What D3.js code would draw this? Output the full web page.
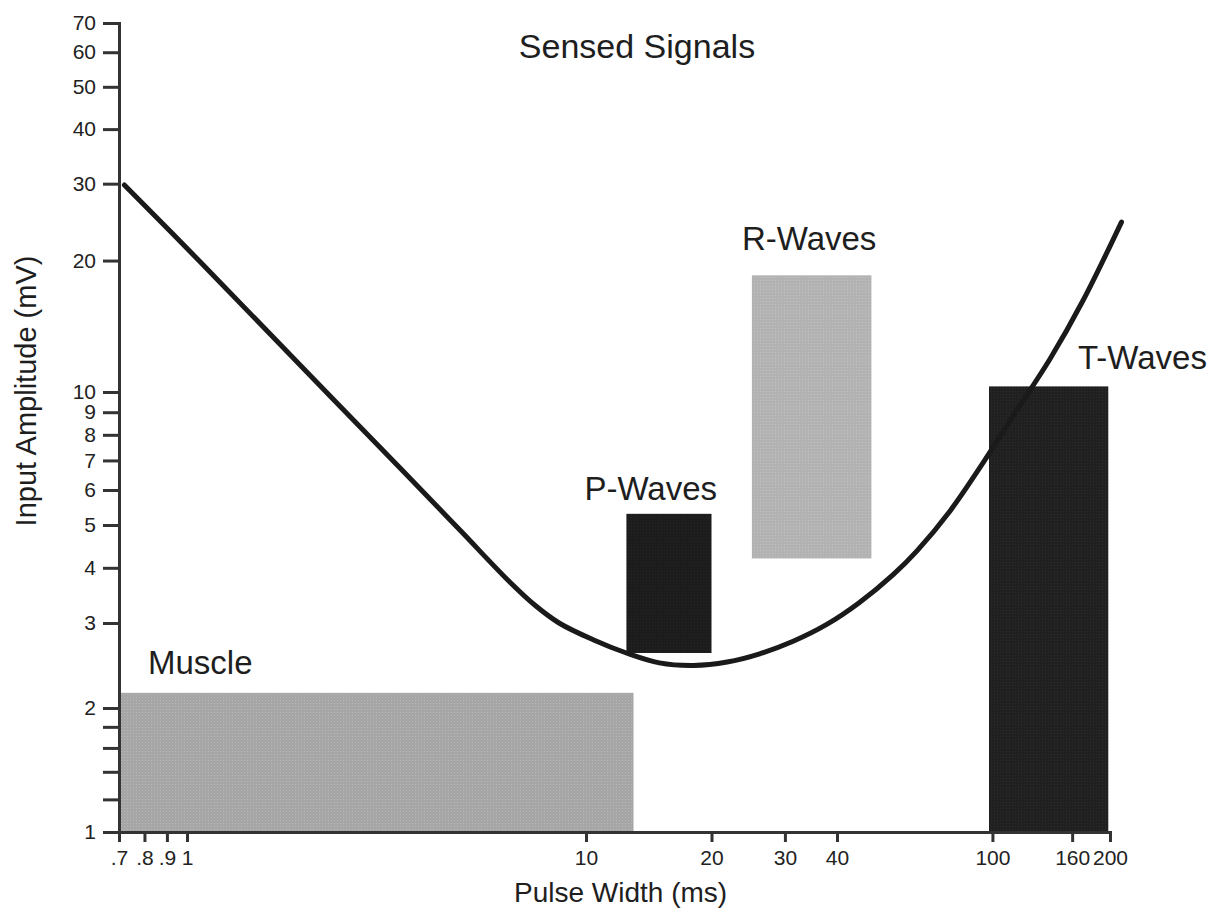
<!DOCTYPE html>
<meta charset="utf-8">
<head>
  <title>Sensed Signals</title>
</head>
<style>
body { margin: 0; background: #fff; }
text { font-family: "Liberation Sans", Arial, Helvetica, sans-serif; fill: #1e1e1e; }
.axis path, .axis line { stroke: #333; stroke-width: 3px; }
.axis text { fill: #222; }
.xaxis text { font-size: 21px; }
.yaxis text { font-size: 21px; }
.curve { fill: none; stroke: #1a1a1a; stroke-width: 5px; stroke-linecap: round; }
</style>
<body>
<script src="https://d3js.org/d3.v7.min.js"></script>
<script>

// ---- data ----
var xTicks = [0.7, 0.8, 0.9, 1, 10, 20, 30, 40, 100, 160, 200];
var xTickLabels = [".7", ".8", ".9", "1", "10", "20", "30", "40", "100", "160", "200"];
var yTicks = [1, 1.2, 1.4, 1.6, 1.8, 2, 3, 4, 5, 6, 7, 8, 9, 10, 20, 30, 40, 50, 60, 70];
var yTickLabels = ["1", "", "", "", "", "2", "3", "4", "5", "6", "7", "8", "9", "10", "20", "30", "40", "50", "60", "70"];

// threshold curve (pulse width ms, amplitude mV)
var curveX = [0.72, 1.08, 1.92, 3.42, 4.83, 6.45, 7.45, 8.56, 10.4, 12.5, 15.0, 18.1, 21.8, 26.1, 31.4, 37.8, 45.5, 55.7, 64.1, 77.9, 94.6, 115.6, 140.4, 170.6, 214];
var curveY = [29.8, 19.85, 11.53, 6.73, 4.87, 3.71, 3.29, 3.0, 2.77, 2.60, 2.48, 2.45, 2.49, 2.59, 2.75, 2.98, 3.33, 3.86, 4.37, 5.38, 6.91, 9.11, 11.9, 16.2, 24.5];

// signal regions
var signalNames = ["Muscle", "P-Waves", "R-Waves", "T-Waves"];
var widthMin = [0.7, 12.5, 25, 98];
var widthMax = [13, 20, 49, 198];
var ampMin = [1, 2.6, 4.2, 1];
var ampMax = [2.15, 5.3, 18.5, 10.3];

// ---- styles ----
var regionStyle = {
  "Muscle":  {base: "#a6a6a6", dot: "#b8b8b8", lx: 29, ly: -19},
  "P-Waves": {base: "#1c1c1c", dot: "#262626", lx: -42, ly: -14},
  "R-Waves": {base: "#b2b2b2", dot: "#c2c2c2", lx: -10, ly: -25},
  "T-Waves": {base: "#202020", dot: "#2c2c2c", lx: 89, ly: -17}
};

var W = 1214, H = 914;

// hand-drawn log axes: calibrated piecewise log scales
var x = d3.scaleLog()
    .domain([0.7, 1, 10, 40, 200])
    .range([119, 187, 586, 837, 1110]);
var y = d3.scaleLog()
    .domain([1, 2, 3, 10, 70])
    .range([832, 708, 623, 392, 23]);

var svg = d3.select("body").append("svg")
    .attr("width", W)
    .attr("height", H);

// halftone-ish patterns
var defs = svg.append("defs");
signalNames.forEach(function(n, i) {
  var st = regionStyle[n];
  var p = defs.append("pattern")
      .attr("id", "pat" + i)
      .attr("width", 3).attr("height", 3)
      .attr("patternUnits", "userSpaceOnUse");
  p.append("rect").attr("width", 3).attr("height", 3).attr("fill", st.base);
  p.append("rect").attr("x", 1).attr("y", 1).attr("width", 1).attr("height", 1).attr("fill", st.dot);
});

// region boxes
var idx = d3.range(signalNames.length);
svg.selectAll(".region")
  .data(idx)
  .enter().append("rect")
    .attr("class", "region")
    .attr("x", function(i) { return x(widthMin[i]); })
    .attr("y", function(i) { return y(ampMax[i]); })
    .attr("width", function(i) { return x(widthMax[i]) - x(widthMin[i]); })
    .attr("height", function(i) { return y(ampMin[i]) - y(ampMax[i]); })
    .attr("fill", function(i) { return "url(#pat" + i + ")"; });

// region labels
svg.selectAll(".rlabel")
  .data(idx)
  .enter().append("text")
    .attr("class", "rlabel")
    .attr("x", function(i) { return x(widthMin[i]) + regionStyle[signalNames[i]].lx; })
    .attr("y", function(i) { return y(ampMax[i]) + regionStyle[signalNames[i]].ly; })
    .style("font-size", "33px")
    .text(function(i) { return signalNames[i]; });

// threshold curve
var pts = curveX.map(function(v, i) { return [v, curveY[i]]; });
var line = d3.line()
    .x(function(d) { return x(d[0]); })
    .y(function(d) { return y(d[1]); })
    .curve(d3.curveCatmullRom.alpha(0.5));
svg.append("path")
    .datum(pts)
    .attr("class", "curve")
    .attr("d", line);

// axes
svg.append("g")
    .attr("class", "axis xaxis")
    .attr("transform", "translate(0," + y(1) + ")")
    .call(d3.axisBottom(x)
      .tickValues(xTicks)
      .tickSize(10)
      .tickSizeOuter(0)
      .tickPadding(8)
      .tickFormat(function(d, i) { return xTickLabels[i]; }));

svg.append("g")
    .attr("class", "axis yaxis")
    .attr("transform", "translate(" + x(0.7) + ",0)")
    .call(d3.axisLeft(y)
      .tickValues(yTicks)
      .tickSize(16)
      .tickSizeOuter(0)
      .tickPadding(7)
      .tickFormat(function(d, i) { return yTickLabels[i]; }));

svg.selectAll(".axis .domain").attr("stroke-linecap", "square");

// titles
svg.append("text")
    .attr("x", 637)
    .attr("y", 58)
    .attr("text-anchor", "middle")
    .style("font-size", "34px")
    .text("Sensed Signals");

svg.append("text")
    .attr("x", 514)
    .attr("y", 902)
    .style("font-size", "28px")
    .text("Pulse Width (ms)");

svg.append("text")
    .attr("transform", "translate(36,391) rotate(-90)")
    .attr("text-anchor", "middle")
    .style("font-size", "29px")
    .text("Input Amplitude (mV)");

</script>
</body>
